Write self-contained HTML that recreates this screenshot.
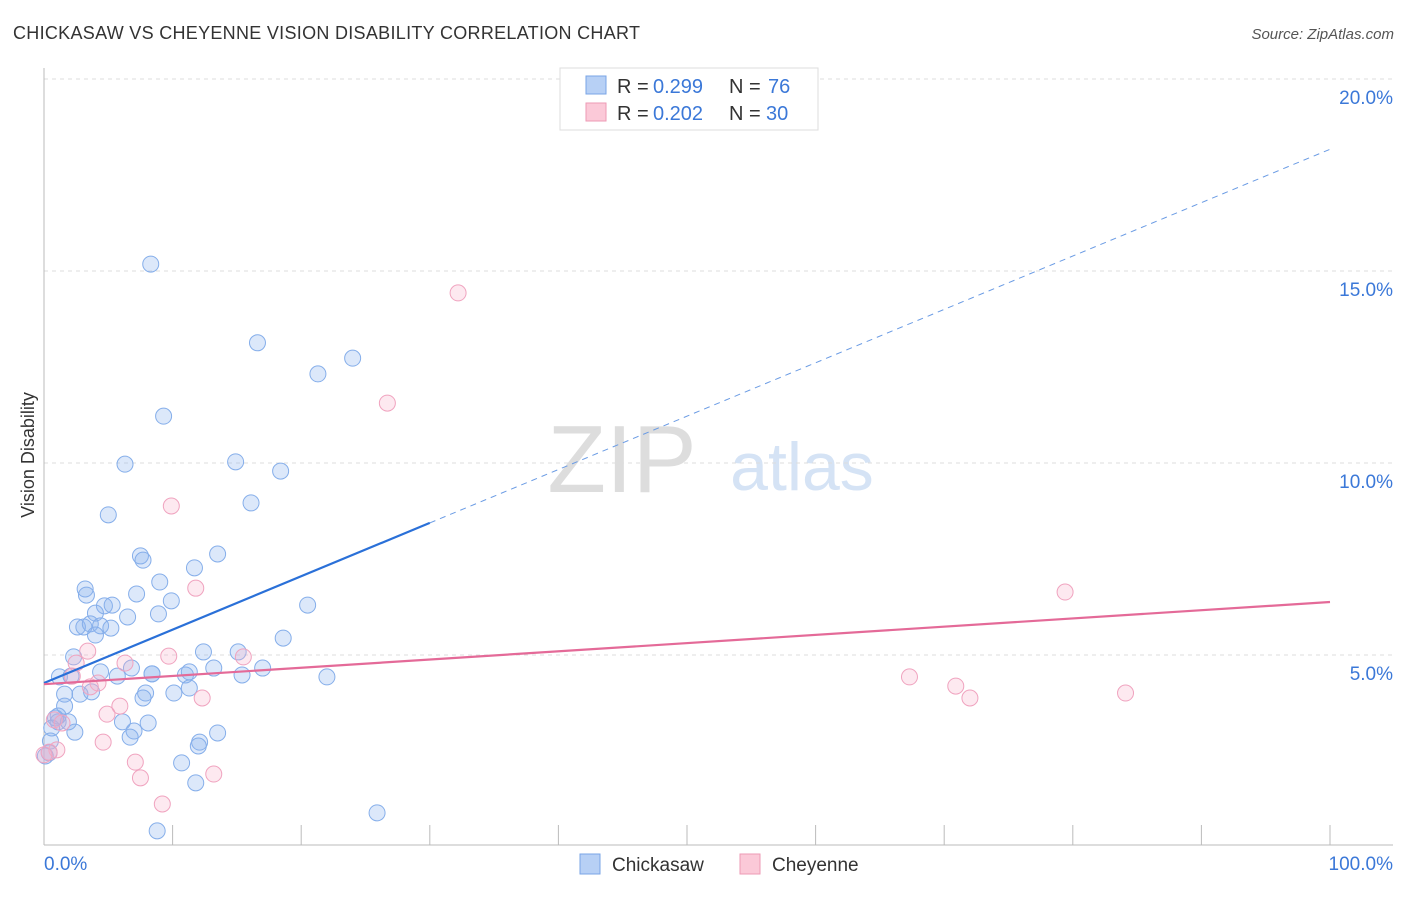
<!DOCTYPE html>
<html><head><meta charset="utf-8">
<style>
body{margin:0;background:#fff;font-family:"Liberation Sans",sans-serif;}
svg text{font-family:"Liberation Sans",sans-serif;}
</style></head>
<body>
<svg id="chart" width="1406" height="892" xmlns="http://www.w3.org/2000/svg">
<text x="13" y="39" font-size="18" fill="#333" textLength="627">CHICKASAW VS CHEYENNE VISION DISABILITY CORRELATION CHART</text>
<text x="1394" y="39" font-size="15" fill="#555" font-style="italic" text-anchor="end">Source: ZipAtlas.com</text>
<text x="622" y="492" font-size="96" fill="#ddd" font-family="Liberation Serif" text-anchor="middle">ZIP</text>
<text x="802" y="490" font-size="68" fill="#d5e3f5" text-anchor="middle">atlas</text>
<g id="grid"></g>
<g id="axes"></g>
<g id="marks"></g>
<text transform="translate(34,455) rotate(-90)" font-size="18" fill="#333" text-anchor="middle">Vision Disability</text>
<g>
<rect x="560" y="68" width="258" height="62" fill="#fff" stroke="#ddd"/>
<rect x="586" y="76" width="20" height="18" fill="#b7d0f5" stroke="#7aa4e6"/>
<text x="617" y="93" font-size="20" fill="#333">R =</text>
<text x="653" y="93" font-size="20" fill="#3b78d8">0.299</text>
<text x="729" y="93" font-size="20" fill="#333">N =</text>
<text x="768" y="93" font-size="20" fill="#3b78d8">76</text>
<rect x="586" y="103" width="20" height="18" fill="#fbc9d8" stroke="#ee9ab5"/>
<text x="617" y="120" font-size="20" fill="#333">R =</text>
<text x="653" y="120" font-size="20" fill="#3b78d8">0.202</text>
<text x="729" y="120" font-size="20" fill="#333">N =</text>
<text x="766" y="120" font-size="20" fill="#3b78d8">30</text>
</g>
<g>
<rect x="580" y="854" width="20" height="20" fill="#b7d0f5" stroke="#7aa4e6"/>
<text x="612" y="871" font-size="19" fill="#333">Chickasaw</text>
<rect x="740" y="854" width="20" height="20" fill="#fbc9d8" stroke="#ee9ab5"/>
<text x="772" y="871" font-size="19" fill="#333">Cheyenne</text>
</g>
</svg>
<script>
const yTicks=[5,10,15,20];
const xTickLabels=["0.0%","100.0%"];
const chickX=[8.3,16.6,21.3,24.0,9.3,6.3,14.9,18.4,16.1,5.0,7.5,7.7,13.5,11.7,9.0,3.2,3.3,7.2,9.9,4.7,5.3,4.0,6.5,8.9,20.5,2.6,3.1,3.6,4.4,5.2,4.0,18.6,2.3,12.4,15.1,1.2,2.1,4.4,5.7,6.8,8.4,11.0,11.3,13.2,15.4,17.0,22.0,1.6,2.8,3.7,7.9,7.7,10.1,11.3,1.6,0.9,1.1,1.9,6.1,8.1,0.6,2.4,7.0,6.7,13.5,0.5,12.1,12.0,10.7,11.8,25.9,8.8,0.4,0.1,1.1,8.4];
const chickY=[15.18,13.13,12.32,12.73,11.22,9.97,10.03,9.79,8.96,8.65,7.58,7.47,7.63,7.27,6.9,6.72,6.56,6.59,6.41,6.28,6.30,6.09,5.99,6.07,6.30,5.73,5.73,5.81,5.76,5.70,5.52,5.44,4.95,5.08,5.08,4.43,4.45,4.56,4.45,4.66,4.51,4.48,4.56,4.66,4.48,4.66,4.43,3.98,3.98,4.04,4.01,3.88,4.01,4.14,3.67,3.36,3.26,3.26,3.26,3.23,3.10,2.99,3.02,2.86,2.97,2.76,2.73,2.63,2.19,1.67,0.89,0.42,2.45,2.37,3.41,4.51];
const cheyX=[32.2,26.7,9.9,11.8,79.4,3.4,9.7,15.5,6.3,2.5,67.3,2.2,4.2,3.6,70.9,72.0,12.3,84.1,5.9,4.9,0.8,1.4,4.6,7.1,1.0,7.5,13.2,9.2,0.4,0.0];
const cheyY=[14.43,11.56,8.88,6.74,6.64,5.10,4.97,4.95,4.79,4.79,4.43,4.45,4.27,4.17,4.19,3.88,3.88,4.01,3.67,3.46,3.31,3.23,2.73,2.21,2.53,1.80,1.90,1.12,2.47,2.40];
const chickTrend=[4.27,0.139];
const cheyTrend=[4.24,0.0214];
const NS="http://www.w3.org/2000/svg";
const X0=44,X1=1330,Y0=847,PX=38.4;
const sx=v=>X0+(X1-X0)*v/100;
const sy=v=>Y0-v*PX;
function mk(tag,attrs,parent){const e=document.createElementNS(NS,tag);for(const k in attrs)e.setAttribute(k,attrs[k]);parent.appendChild(e);return e;}
const grid=document.getElementById('grid'),axes=document.getElementById('axes'),marks=document.getElementById('marks');
yTicks.forEach(t=>{
 const l=mk('line',{x1:44,x2:1393,y1:sy(t),y2:sy(t),stroke:'#ddd','stroke-dasharray':'4,4'},grid);
 
 
 const tx=mk('text',{x:1393,y:sy(t)+25,'font-size':19,fill:'#3b78d8','text-anchor':'end'},axes);
 tx.textContent=t.toFixed(1)+'%';
 
 
});
const ax=mk('line',{x1:44,x2:1393,y1:845,y2:845,stroke:'#bbb'},axes);


const ay=mk('line',{x1:44,x2:44,y1:68,y2:845,stroke:'#bbb'},axes);


for(let i=0;i<=10;i++){
 const t=mk('line',{x1:sx(i*10),x2:sx(i*10),y1:825,y2:845,stroke:'#bbb'},axes);
 
 
}
[[0,'start',44],[100,'end',1393]].forEach((d,i)=>{
 const t=mk('text',{x:d[2],y:870,'font-size':19,fill:'#3b78d8','text-anchor':d[1]},axes);
 t.textContent=xTickLabels[i];
 
 
});
function pts(xs,ys,fill,stroke,name){
 xs.forEach((x,i)=>{
  const c=mk('circle',{cx:sx(x),cy:sy(ys[i]),r:8,fill:fill,stroke:stroke,'stroke-width':1},marks);
  
  
 });
}
pts(chickX,chickY,'rgba(140,180,240,0.3)','#85aeea','chickasaw-point');
pts(cheyX,cheyY,'rgba(248,175,200,0.28)','#f0a3bf','cheyenne-point');
const bl=mk('line',{x1:sx(0),y1:sy(chickTrend[0]),x2:sx(30),y2:sy(chickTrend[0]+chickTrend[1]*30),stroke:'#2a70d8','stroke-width':2.2},marks);


const bd=mk('line',{x1:sx(30),y1:sy(chickTrend[0]+chickTrend[1]*30),x2:sx(100),y2:sy(chickTrend[0]+chickTrend[1]*100),stroke:'#6a9be4','stroke-width':1,'stroke-dasharray':'6,5'},marks);


const pl=mk('line',{x1:sx(0),y1:sy(cheyTrend[0]),x2:sx(100),y2:sy(cheyTrend[0]+cheyTrend[1]*100),stroke:'#e46a98','stroke-width':2.2},marks);


</script>
</body></html>
